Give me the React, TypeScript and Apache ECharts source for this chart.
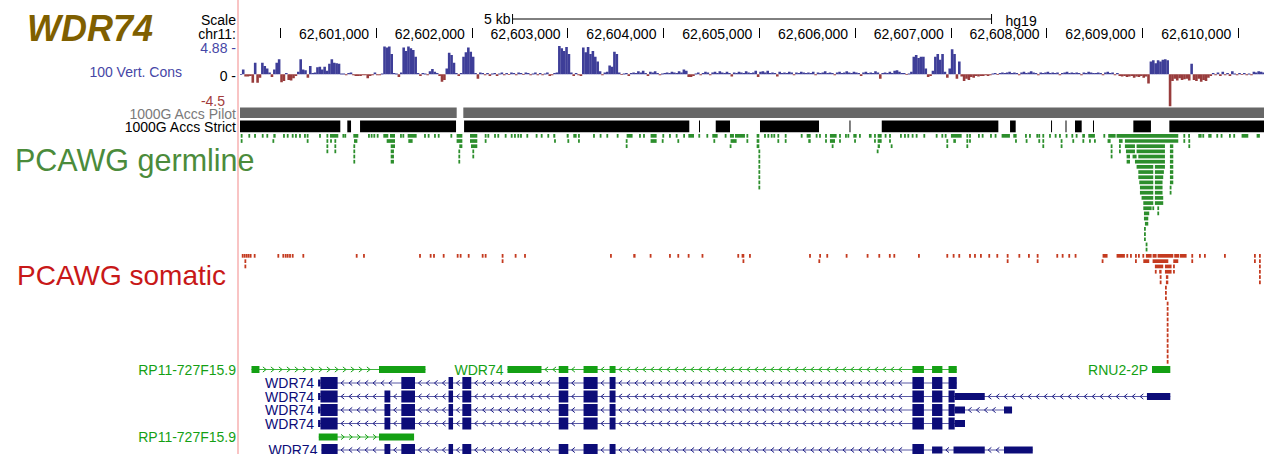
import React, { useEffect, useRef } from 'react';
import * as echarts from 'echarts';

const FONT = '"Liberation Sans", Arial, Helvetica, sans-serif';

// Visible window on chr11 (hg19)
const viewStart = 62599580;
const viewEnd = 62610269;

// Base-position ruler
const rulerTicks = [62600000, 62601000, 62602000, 62603000, 62604000, 62605000, 62606000, 62607000, 62608000, 62609000, 62610000];
const rulerLabels = rulerTicks.slice(1);
const scaleBar = [62602425, 62607425];

// 100 vertebrates basewise conservation (phyloP), 25 bp bins, one row per kb
const consStart = 62599500;
const consBinSize = 25;
const consValues = [
  0, 0, 0, 0, 0.8, -0.4, -0.4, -0.3, -1.5, 2.0, -1.5, -0.6, 2.0, 1.4, 1.0, 0.3, -0.5, 0.8, 2.0, 2.6, -1.4, -1.2, 0.2, -1.0, -1.1, -0.7, -0.3, 0.4, 2.6, 0.8, 0.7, -0.6, 1.4, 0.2, 0.3, 1.2, 1.3, 0.8, 1.3, 0.6,
  1.8, 2.6, 2.0, 1.9, 1.8, 0.1, 0.1, -0.2, 0.2, 0.3, -0.2, -0.3, -0.3, -0.3, -0.2, -0.2, -0.7, -0.3, -0.2, 0.3, -0.2, -0.2, 0.1, 4.8, 4.6, 4.8, 3.5, 0.2, 0.1, -0.5, 0.3, 4.6, 4.0, 4.8, 4.5, 4.2, 3.0, 0.2, -0.3, 0.2,
  0.1, -0.2, 0.5, 0.9, 0.4, 0.2, -0.3, -1.3, -1.0, 1.0, 3.7, 3.3, 2.0, 0.2, -0.3, 0.2, 3.0, 3.8, 4.6, 3.9, 3.0, 0.2, -0.8, 0.3, 0.2, -0.2, 0.2, -0.3, 0.1, 0.2, -0.3, 0.1, 0.3, -0.2, 0.2, -0.1, 0.3, 0.2, -0.2, 0.3,
  0.2, -0.1, 0.3, 0.2, -0.2, 0.1, 0.3, -0.2, 0.2, -0.2, 0.1, 0.3, -0.3, -0.2, 0.2, 0.3, 4.88, 4.5, 4.0, 4.7, 3.5, 0.3, -0.3, 0.2, -0.2, -0.3, 4.6, 3.8, 4.7, 3.5, 4.0, 3.0, 2.2, 0.5, -0.2, 0.3, 0.4, 1.5, 1.3, 3.9,
  3.5, 0.3, -0.1, 0.1, 0.2, -0.3, 0.2, 0.3, 0.2, 0.5, 0.3, 0.6, 0.2, -0.3, 0.4, 0.3, 0.5, 0.2, -0.2, 0.1, 0.2, 0.3, 0.2, 0.4, 0.3, 0.2, 0.5, 0.3, 0.8, 0.6, -0.5, -0.5, -0.3, 0.1, 0.3, -0.2, 0.2, 0.4, 0.3, -0.2,
  0.3, 0.4, 0.2, 0.5, 0.3, 0.2, 0.4, 0.2, -0.4, 0.3, 0.2, 0.4, 0.3, 0.2, 0.5, 0.3, 0.2, 0.3, 0.6, -0.5, 0.4, 0.5, 0.3, 0.6, 0.2, 0.3, 0.2, -0.4, 0.4, 0.2, 0.3, 0.2, 0.4, 0.3, -0.2, 0.3, 0.2, 0.4, 0.3, 0.2,
  0.3, 0.2, 0.4, -0.2, 0.3, 0.2, 0.3, 0.5, 0.2, 0.3, 0.2, -0.2, 0.3, 0.4, 0.2, 0.3, 0.5, 0.3, 0.2, 0.4, 0.3, 0.2, -0.3, 0.3, 0.4, 0.2, 0.3, 0.2, 0.5, 0.3, -0.8, 0.2, 0.3, 0.2, 0.4, 0.2, 0.6, 0.7, 0.4, 0.2,
  0.2, -0.1, 0.1, 0.4, 3.0, 3.3, 2.8, 3.0, 3.0, 1.0, -0.5, -0.3, 0.6, 3.0, 3.5, 2.5, 3.5, 0.4, -0.6, 1.0, 4.3, 3.5, -0.8, 2.2, -0.4, -1.2, -0.8, -1.0, -0.5, -0.6, -0.3, -0.4, -0.3, -0.3, -0.2, -0.3, -0.2, 0.1, 0.2, -0.1,
  0.2, 0.3, 0.2, 0.3, 0.4, 0.2, 0.3, 0.2, -0.2, 0.3, 0.4, 0.2, 0.3, 0.5, 0.3, 0.2, -0.2, 0.3, 0.2, 0.3, 0.4, 0.2, 0.3, 0.2, 0.3, -0.2, 0.2, 0.3, 0.4, 0.2, 0.3, 0.2, 0.3, 0.2, -0.2, 0.3, 0.2, 0.4, 0.3, 0.2,
  0.2, 0.3, 0.2, -0.2, 0.3, 0.4, 0.2, 0.3, -0.2, 0.2, -0.3, -0.4, -0.3, -0.5, -0.4, -0.3, -0.6, -0.4, -0.5, -0.3, -0.6, -0.4, -1.6, 2.2, 2.4, 1.9, 2.4, 2.2, 2.5, 2.6, 2.4, -5.6, -1.2, -0.8, -1.1, -0.7, -1.0, -0.9, -0.8, -1.1,
  1.8, -1.0, -1.2, -0.8, -1.3, -1.0, -1.2, -0.6, -0.3, 0.2, -0.2, 0.3, -0.3, 0.4, -0.2, 0.2, -0.3, 0.5, 0.1, -0.2, 0.2, -0.1, 0.2, -0.2, 0.1, -0.2, 0.4, 0.3, 0.5, 0.4, 0.3,
];

// 1000 Genomes accessibility masks [start, end]
const pilotBlocks = [[62599580, 62601842], [62601911, 62610269]];
const strictBlocks = [
  [62599580, 62600627], [62600700, 62600739], [62600833, 62601835], [62601919, 62604270], [62604371, 62604382],
  [62604546, 62604695], [62605008, 62605624], [62605942, 62605952], [62606279, 62607496], [62607618, 62607677],
  [62608046, 62608056], [62608197, 62608207], [62608296, 62608366], [62608484, 62608494], [62608905, 62609089],
  [62609281, 62610269],
];

// PCAWG germline calls [start, end, firstRow, lastRow]
const germlineCalls = [
  [62599597, 62599597, 1, 2], [62599677, 62599677, 1, 1], [62599737, 62599737, 1, 1], [62599817, 62599817, 1, 1],
  [62599865, 62599865, 1, 1], [62599928, 62599952, 1, 1], [62599928, 62599928, 2, 2], [62600039, 62600039, 1, 1],
  [62600078, 62600078, 1, 1], [62600130, 62600130, 1, 1], [62600164, 62600164, 1, 1], [62600206, 62600206, 1, 1],
  [62600258, 62600258, 1, 1], [62600286, 62600286, 1, 2], [62600415, 62600415, 1, 1], [62600492, 62600492, 1, 4],
  [62600519, 62600606, 1, 1], [62600530, 62600530, 2, 2], [62600575, 62600575, 2, 4], [62600659, 62600659, 1, 1],
  [62600679, 62600679, 1, 1], [62600763, 62600815, 1, 1], [62600770, 62600805, 2, 2], [62600773, 62600773, 3, 6],
  [62600926, 62600926, 1, 1], [62600954, 62600954, 1, 1], [62600982, 62600982, 1, 1], [62601017, 62601017, 1, 1],
  [62601076, 62601128, 1, 1], [62601146, 62601198, 1, 1], [62601111, 62601198, 2, 2], [62601153, 62601198, 3, 3],
  [62601153, 62601187, 4, 6], [62601260, 62601260, 1, 1], [62601285, 62601285, 1, 1], [62601330, 62601424, 1, 1],
  [62601337, 62601382, 2, 2], [62601511, 62601511, 1, 1], [62601549, 62601549, 1, 1], [62601615, 62601615, 1, 1],
  [62601654, 62601654, 1, 1], [62601786, 62601786, 1, 1], [62601841, 62601901, 1, 2], [62601869, 62601901, 3, 3],
  [62601869, 62601869, 4, 6], [62601981, 62602057, 1, 2], [62601991, 62602057, 3, 3], [62602015, 62602015, 4, 5],
  [62602144, 62602144, 1, 2], [62602172, 62602172, 1, 1], [62602242, 62602242, 1, 1], [62602276, 62602276, 1, 1],
  [62602353, 62602353, 1, 1], [62602416, 62602416, 1, 1], [62602450, 62602450, 1, 1], [62602485, 62602485, 1, 1],
  [62602513, 62602513, 1, 1], [62602579, 62602579, 1, 1], [62602676, 62602676, 1, 1], [62602729, 62602729, 1, 1],
  [62602798, 62602798, 1, 1], [62602850, 62602871, 1, 1], [62602868, 62602868, 2, 2], [62602990, 62603011, 1, 1],
  [62603007, 62603007, 2, 2], [62603059, 62603094, 1, 1], [62603118, 62603118, 1, 2], [62603275, 62603275, 1, 1],
  [62603344, 62603344, 1, 1], [62603414, 62603414, 1, 1], [62603522, 62603522, 1, 1], [62603616, 62603678, 1, 1],
  [62603616, 62603616, 2, 3], [62603755, 62603755, 1, 1], [62603797, 62603797, 1, 1], [62603866, 62603929, 1, 2],
  [62603992, 62604005, 1, 1], [62603992, 62603992, 2, 2], [62604068, 62604068, 1, 1], [62604138, 62604138, 1, 1],
  [62604155, 62604155, 2, 2], [62604207, 62604225, 1, 1], [62604260, 62604319, 1, 1], [62604374, 62604374, 1, 1],
  [62604458, 62604458, 1, 1], [62604510, 62604566, 1, 1], [62604531, 62604531, 2, 2], [62604649, 62604649, 1, 1],
  [62604694, 62604736, 1, 1], [62604701, 62604764, 2, 2], [62604701, 62604701, 3, 3], [62604747, 62604851, 1, 1],
  [62604876, 62604876, 1, 2], [62604973, 62605001, 1, 3], [62605001, 62605001, 4, 11], [62605060, 62605060, 1, 1],
  [62605095, 62605095, 1, 1], [62605130, 62605130, 1, 1], [62605157, 62605157, 1, 1], [62605199, 62605199, 1, 2],
  [62605276, 62605276, 1, 2], [62605443, 62605443, 1, 1], [62605495, 62605537, 1, 1], [62605512, 62605537, 2, 2],
  [62605599, 62605599, 1, 1], [62605634, 62605634, 1, 1], [62605697, 62605697, 1, 2], [62605738, 62605808, 1, 1],
  [62605738, 62605791, 2, 2], [62605766, 62605766, 3, 3], [62605843, 62605843, 1, 2], [62605905, 62605905, 1, 1],
  [62605930, 62605930, 1, 1], [62605982, 62606017, 1, 1], [62606000, 62606000, 2, 2], [62606051, 62606051, 1, 1],
  [62606145, 62606173, 1, 1], [62606208, 62606208, 1, 2], [62606236, 62606278, 1, 2], [62606236, 62606260, 3, 3],
  [62606236, 62606236, 4, 4], [62606319, 62606319, 1, 1], [62606365, 62606365, 1, 2], [62606382, 62606382, 3, 3],
  [62606479, 62606479, 1, 1], [62606521, 62606521, 1, 1], [62606556, 62606556, 1, 1], [62606601, 62606601, 1, 1],
  [62606643, 62606643, 1, 1], [62606723, 62606723, 1, 1], [62606852, 62606852, 1, 1], [62606911, 62606911, 1, 1],
  [62606946, 62606946, 1, 1], [62606963, 62606963, 2, 3], [62607001, 62607113, 1, 1], [62607026, 62607053, 2, 2],
  [62607172, 62607172, 1, 3], [62607200, 62607200, 1, 2], [62607293, 62607293, 1, 1], [62607332, 62607332, 1, 1],
  [62607419, 62607419, 1, 1], [62607467, 62607467, 1, 1], [62607530, 62607617, 1, 1], [62607652, 62607687, 1, 1],
  [62607680, 62607680, 2, 2], [62607784, 62607784, 1, 1], [62607791, 62607791, 2, 2], [62607826, 62607826, 1, 1],
  [62607902, 62607902, 1, 1], [62607923, 62607923, 1, 2], [62607965, 62607965, 1, 3], [62608035, 62608035, 1, 1],
  [62608094, 62608094, 1, 1], [62608139, 62608139, 1, 1], [62608156, 62608156, 2, 3], [62608208, 62608208, 1, 1],
  [62608268, 62608268, 1, 1], [62608278, 62608278, 2, 2], [62608313, 62608313, 1, 1], [62608372, 62608400, 1, 1],
  [62608383, 62608383, 2, 2], [62608435, 62608504, 1, 1], [62608452, 62608452, 2, 2], [62608504, 62608504, 2, 2],
  [62608602, 62608602, 1, 1], [62608643, 62608720, 1, 1], [62608636, 62608668, 2, 2], [62608678, 62608678, 3, 5],
  [62608730, 62609374, 1, 1], [62608755, 62608793, 2, 2], [62608817, 62609374, 2, 2], [62608765, 62608765, 3, 4],
  [62608817, 62608922, 3, 3], [62608828, 62608922, 4, 4], [62608939, 62609235, 3, 4], [62609287, 62609322, 3, 10],
  [62608835, 62608870, 5, 6], [62608897, 62608939, 5, 5], [62608957, 62609235, 5, 5], [62608922, 62609235, 6, 6],
  [62608939, 62609113, 7, 7], [62609130, 62609235, 7, 7], [62608957, 62609113, 8, 9], [62609130, 62609224, 8, 8],
  [62609130, 62609217, 9, 9], [62608967, 62609113, 10, 10], [62609130, 62609210, 10, 12], [62609294, 62609294, 11, 12],
  [62608974, 62609113, 11, 12], [62608991, 62609113, 13, 13], [62609009, 62609113, 14, 14], [62609130, 62609217, 13, 14],
  [62609009, 62609096, 15, 15], [62609113, 62609113, 15, 15], [62609165, 62609165, 15, 16], [62609016, 62609071, 16, 16],
  [62609016, 62609061, 17, 17], [62609026, 62609061, 18, 18], [62609026, 62609026, 19, 21], [62609043, 62609043, 22, 23],
  [62609437, 62609437, 1, 2], [62609478, 62609496, 1, 1], [62609489, 62609489, 2, 3], [62609583, 62609618, 1, 1],
  [62609635, 62609635, 1, 1], [62609687, 62609722, 1, 1], [62609781, 62609781, 1, 1], [62609826, 62609826, 1, 1],
  [62609913, 62609913, 1, 1], [62609958, 62609958, 1, 1], [62610035, 62610105, 1, 1], [62610192, 62610226, 1, 1],
];

// PCAWG somatic calls [start, end, firstRow, lastRow]
const somaticCalls = [
  [62599608, 62599608, 1, 1], [62599629, 62599629, 1, 1], [62599650, 62599650, 1, 1], [62599670, 62599670, 1, 1],
  [62599691, 62599691, 1, 1], [62599733, 62599733, 1, 1], [62599636, 62599636, 2, 3], [62599980, 62599980, 1, 1],
  [62600032, 62600032, 1, 1], [62600057, 62600057, 1, 1], [62600078, 62600078, 1, 1], [62600102, 62600102, 1, 1],
  [62600130, 62600130, 1, 1], [62600241, 62600241, 1, 1], [62600791, 62600805, 1, 1], [62600874, 62600874, 1, 1],
  [62601459, 62601459, 1, 1], [62601570, 62601570, 1, 1], [62601605, 62601605, 1, 1], [62601706, 62601706, 1, 1],
  [62601852, 62601852, 1, 1], [62601883, 62601883, 1, 1], [62601967, 62601967, 1, 1], [62602113, 62602113, 1, 1],
  [62602144, 62602144, 1, 1], [62602321, 62602321, 1, 2], [62602457, 62602457, 1, 1], [62602555, 62602555, 1, 1],
  [62603452, 62603452, 1, 1], [62603685, 62603709, 1, 1], [62603866, 62603866, 1, 1], [62604068, 62604068, 1, 1],
  [62604155, 62604155, 1, 1], [62604263, 62604263, 1, 1], [62604399, 62604416, 1, 1], [62604781, 62604781, 1, 1],
  [62604816, 62604844, 1, 1], [62604826, 62604844, 2, 2], [62604903, 62604903, 1, 1], [62605530, 62605530, 1, 1],
  [62605627, 62605644, 1, 1], [62605627, 62605627, 2, 2], [62605710, 62605710, 1, 1], [62605912, 62605912, 1, 1],
  [62606131, 62606131, 1, 1], [62606253, 62606253, 1, 1], [62606354, 62606372, 1, 1], [62606410, 62606410, 1, 1],
  [62606667, 62606667, 1, 1], [62606963, 62606963, 1, 1], [62607029, 62607029, 1, 1], [62607088, 62607088, 1, 1],
  [62607200, 62607200, 1, 1], [62607252, 62607252, 1, 1], [62607314, 62607314, 1, 1], [62607401, 62607401, 1, 1],
  [62607485, 62607485, 1, 1], [62607593, 62607593, 1, 2], [62607715, 62607715, 1, 1], [62607815, 62607815, 1, 1],
  [62607906, 62607906, 1, 2], [62608111, 62608111, 1, 1], [62608167, 62608167, 1, 1], [62608236, 62608236, 1, 1],
  [62608302, 62608302, 1, 1], [62608584, 62608636, 1, 1], [62608584, 62608584, 2, 2], [62608730, 62608817, 1, 1],
  [62608842, 62608842, 1, 1], [62608880, 62608880, 1, 1], [62608932, 62608932, 1, 2], [62608963, 62608963, 1, 1],
  [62609009, 62609009, 1, 1], [62609036, 62609096, 1, 1], [62609009, 62609071, 2, 2], [62609106, 62609148, 1, 1],
  [62609158, 62609322, 1, 1], [62609106, 62609270, 2, 2], [62609332, 62609384, 1, 1], [62609322, 62609374, 2, 2],
  [62609391, 62609461, 1, 1], [62609520, 62609520, 1, 2], [62609600, 62609600, 1, 1], [62609652, 62609652, 1, 1],
  [62609861, 62609861, 1, 1], [62610174, 62610174, 1, 2], [62610226, 62610226, 1, 6],
  [62609130, 62609217, 3, 3], [62609235, 62609304, 3, 4], [62609329, 62609329, 3, 4], [62609130, 62609148, 4, 4],
  [62609175, 62609200, 4, 4], [62609190, 62609190, 5, 6], [62609245, 62609270, 5, 6], [62609245, 62609245, 7, 9],
  [62609263, 62609263, 10, 21],
];

// Gene models: exons [start, end, coding(1) / non-coding(0)]
const rp11aExons = [[62599700, 62599783, 0], [62601031, 62601516, 0]];
const wdr74NcExons = [[62602372, 62602727, 0], [62602907, 62603007, 0], [62603166, 62603313, 0], [62603438, 62603500, 0], [62606599, 62606719, 0], [62606804, 62606912, 0], [62606976, 62607062, 0]];
const rnu2Exons = [[62609100, 62609291, 0]];
const wdr74aExons = [[62600395, 62600420, 0], [62600420, 62600599, 1], [62601264, 62601407, 1], [62601757, 62601804, 1], [62601901, 62601994, 1], [62602907, 62603007, 1], [62603166, 62603313, 1], [62603438, 62603500, 1], [62606599, 62606719, 1], [62606804, 62606912, 1], [62606976, 62607062, 1]];
const wdr74bExons = [[62600395, 62600420, 0], [62600420, 62600599, 1], [62601088, 62601149, 1], [62601264, 62601407, 1], [62601757, 62601804, 1], [62601901, 62601994, 1], [62602907, 62603007, 1], [62603166, 62603313, 1], [62603438, 62603500, 1], [62606599, 62606719, 1], [62606804, 62606912, 1], [62606976, 62607040, 1], [62607040, 62607354, 0], [62609047, 62609291, 0]];
const wdr74cExons = [[62600395, 62600420, 0], [62600420, 62600599, 1], [62601088, 62601149, 1], [62601264, 62601407, 1], [62601757, 62601804, 1], [62601901, 62601994, 1], [62602907, 62603007, 1], [62603166, 62603313, 1], [62603438, 62603500, 1], [62606599, 62606719, 1], [62606804, 62606912, 1], [62606976, 62607040, 1], [62607040, 62607148, 0], [62607555, 62607639, 0]];
const wdr74dExons = [[62600395, 62600420, 0], [62600420, 62600599, 1], [62601088, 62601149, 1], [62601264, 62601407, 1], [62601757, 62601804, 1], [62601901, 62601994, 1], [62602907, 62603007, 1], [62603166, 62603313, 1], [62603438, 62603500, 1], [62606599, 62606719, 1], [62606804, 62606912, 1], [62606976, 62607040, 1], [62607040, 62607148, 0]];
const rp11bExons = [[62600402, 62600599, 0], [62601031, 62601397, 0]];
const wdr74eExons = [[62600430, 62600599, 1], [62601088, 62601149, 1], [62601264, 62601407, 1], [62601757, 62601804, 1], [62601901, 62601994, 1], [62602907, 62603007, 1], [62603166, 62603313, 1], [62603438, 62603500, 1], [62606599, 62606719, 1], [62606804, 62606912, 0], [62607028, 62607354, 0], [62607555, 62607855, 0]];

const GREEN = '#14a014';
const NAVY = '#0c0c78';
const geneStyles = {
  green: { color: GREEN, line: '#3cb43c', arrow: GREEN },
  navy: { color: NAVY, line: '#5a5aa6', arrow: '#1c1c84' },
};

const transcripts = [
  { name: 'RP11-727F15.9', row: 0, strand: 1, kind: 'green', exons: rp11aExons },
  { name: 'WDR74', row: 0, strand: -1, kind: 'green', exons: wdr74NcExons },
  { name: 'RNU2-2P', row: 0, strand: 0, kind: 'green', exons: rnu2Exons },
  { name: 'WDR74', row: 1, strand: -1, kind: 'navy', exons: wdr74aExons },
  { name: 'WDR74', row: 2, strand: -1, kind: 'navy', exons: wdr74bExons },
  { name: 'WDR74', row: 3, strand: -1, kind: 'navy', exons: wdr74cExons },
  { name: 'WDR74', row: 4, strand: -1, kind: 'navy', exons: wdr74dExons },
  { name: 'RP11-727F15.9', row: 5, strand: 1, kind: 'green', exons: rp11bExons },
  { name: 'WDR74', row: 6, strand: -1, kind: 'navy', exons: wdr74eExons },
];

// Track layout (page pixels)
const DATA_LEFT = 240;
const GENE_ROW_Y = [369.5, 383, 396.5, 410, 423.5, 437, 450];
const GERM = { top: 134, pitch: 5.17, h: 3.7, color: '#2c8e2c' };
const SOMA = { top: 254, pitch: 5.3, h: 3.7, color: '#c43a1f' };

const fmtPos = (v: number) => String(Math.round(v)).replace(/\B(?=(\d{3})+(?!\d))/g, ',');

function makeTickSeries(data: number[][], cfg: { top: number; pitch: number; h: number; color: string }) {
  return {
    type: 'custom',
    xAxisIndex: 2,
    yAxisIndex: 2,
    clip: true,
    data,
    renderItem: (_p: any, api: any) => {
      const s = api.value(0), e = api.value(1), r0 = api.value(2), r1 = api.value(3);
      const x0 = api.coord([s, 0])[0];
      const x1 = api.coord([e, 0])[0];
      const narrow = x1 - x0 < 1.8;
      const x = narrow ? (x0 + x1) / 2 - 0.9 : x0;
      const w = narrow ? 1.8 : x1 - x0;
      const children: any[] = [];
      for (let r = r0; r <= r1; r++) {
        const y = api.coord([s, cfg.top + (r - 1) * cfg.pitch])[1];
        children.push({ type: 'rect', shape: { x, y, width: w, height: cfg.h }, style: { fill: cfg.color } });
      }
      return { type: 'group', children };
    },
  };
}

function makeBlockSeries(data: number[][], y0: number, y1: number, color: string) {
  return {
    type: 'custom',
    xAxisIndex: 2,
    yAxisIndex: 2,
    clip: true,
    data,
    renderItem: (_p: any, api: any) => {
      const a = api.coord([api.value(0), y0]);
      const b = api.coord([api.value(1), y1]);
      return { type: 'rect', shape: { x: a[0], y: a[1], width: Math.max(b[0] - a[0], 1), height: b[1] - a[1] }, style: { fill: color } };
    },
  };
}

export default function App() {
  const ref = useRef<HTMLDivElement>(null);

  useEffect(() => {
    const el = ref.current;
    if (!el) return;
    const chart = echarts.init(el, null, { renderer: 'svg' });

    const measureCtx = document.createElement('canvas').getContext('2d') as CanvasRenderingContext2D;
    const textWidth = (t: string, font: string) => {
      measureCtx.font = font;
      return measureCtx.measureText(t).width;
    };

    const label14 = `14px ${FONT}`;
    const leftText = (text: string, x: number, y: number, fill: string, font = label14, align = 'right') => ({
      type: 'text',
      x,
      y,
      z: 10,
      style: { text, fill, font, align, verticalAlign: 'middle', textAlign: align, textVerticalAlign: 'middle' },
    });

    const xBase = { type: 'value', min: viewStart, max: viewEnd, show: false };

    const option: any = {
      animation: false,
      backgroundColor: '#ffffff',
      grid: [
        { left: DATA_LEFT, right: 0, top: 28, height: 10 },
        { left: DATA_LEFT, right: 0, top: 46, height: 60.5 },
        { left: DATA_LEFT, right: 0, top: 0, height: 454 },
      ],
      xAxis: [
        {
          type: 'value',
          gridIndex: 0,
          min: viewStart,
          max: viewEnd,
          position: 'bottom',
          axisLine: { show: false },
          splitLine: { show: false },
          axisTick: { show: true, inside: true, length: 10, customValues: rulerTicks, lineStyle: { color: '#000', width: 1 } },
          axisLabel: {
            inside: true,
            customValues: rulerLabels,
            formatter: (v: number) => fmtPos(v),
            fontSize: 14,
            fontFamily: FONT,
            color: '#000',
            align: 'right',
            verticalAlign: 'middle',
            margin: 4,
            padding: [0, 7, 0, 0],
          },
        },
        { ...xBase, gridIndex: 1 },
        { ...xBase, gridIndex: 2 },
      ],
      yAxis: [
        { type: 'value', gridIndex: 0, min: 0, max: 1, show: false },
        { type: 'value', gridIndex: 1, min: -5.6, max: 4.88, show: false },
        { type: 'value', gridIndex: 2, min: 0, max: 454, inverse: true, show: false },
      ],
      graphic: [
        { type: 'rect', x: 237, y: 0, z: 0, shape: { x: 0, y: 0, width: 2, height: 454 }, style: { fill: '#f9c4c4' } },
        leftText('WDR74', 27, 28.5, '#7f5f00', `italic bold 36px ${FONT}`, 'left'),
        leftText('Scale', 236, 20, '#000'),
        leftText('chr11:', 236, 33.5, '#000'),
        leftText('4.88 -', 236, 47.5, '#4646a6'),
        leftText('100 Vert. Cons', 182, 72, '#4646a6'),
        leftText('0 -', 236, 75.5, '#000'),
        leftText('-4.5', 225, 100.5, '#a33c3c'),
        leftText('1000G Accs Pilot', 236, 113.5, '#7a7a7a'),
        leftText('1000G Accs Strict', 236, 127, '#000'),
        leftText('PCAWG germline', 15, 160, '#4b8b3b', `30.5px ${FONT}`, 'left'),
        leftText('PCAWG somatic', 17, 275, '#c81818', `28px ${FONT}`, 'left'),
      ],
      series: [
        // 5 kb scale bar with assembly name
        {
          type: 'custom',
          xAxisIndex: 2,
          yAxisIndex: 2,
          data: [scaleBar],
          renderItem: (_p: any, api: any) => {
            const s = api.value(0), e = api.value(1);
            const a = api.coord([s, 19]);
            const b = api.coord([e, 19]);
            const kb = Math.round((e - s) / 1000);
            return {
              type: 'group',
              children: [
                { type: 'line', shape: { x1: a[0], y1: a[1], x2: b[0], y2: b[1] }, style: { stroke: '#000', lineWidth: 1 } },
                { type: 'line', shape: { x1: a[0], y1: a[1] - 5, x2: a[0], y2: a[1] + 5 }, style: { stroke: '#000', lineWidth: 1 } },
                { type: 'line', shape: { x1: b[0], y1: b[1] - 5, x2: b[0], y2: b[1] + 5 }, style: { stroke: '#000', lineWidth: 1 } },
                { type: 'text', x: a[0] - 2, y: a[1], style: { text: `${kb} kb`, fill: '#000', font: label14, align: 'right', verticalAlign: 'middle', textAlign: 'right', textVerticalAlign: 'middle' } },
                { type: 'text', x: b[0] + 14, y: b[1] + 1.5, style: { text: 'hg19', fill: '#000', font: label14, align: 'left', verticalAlign: 'middle', textAlign: 'left', textVerticalAlign: 'middle' } },
              ],
            };
          },
        },
        // Conservation wiggle
        {
          type: 'custom',
          xAxisIndex: 1,
          yAxisIndex: 1,
          clip: true,
          data: consValues.map((v, i) => [consStart + i * consBinSize, v]),
          renderItem: (_p: any, api: any) => {
            const s = api.value(0), v = api.value(1);
            const a = api.coord([s, 0]);
            const b = api.coord([s + consBinSize, v]);
            const y = Math.min(a[1], b[1]);
            return {
              type: 'rect',
              shape: { x: a[0], y, width: b[0] - a[0] + 0.2, height: Math.max(Math.abs(b[1] - a[1]), 0.8) },
              style: { fill: v >= 0 ? '#3e3e98' : '#983c3c' },
            };
          },
        },
        makeBlockSeries(pilotBlocks, 107.5, 118, '#676767'),
        makeBlockSeries(strictBlocks, 120.5, 132.3, '#000000'),
        makeTickSeries(germlineCalls, GERM),
        makeTickSeries(somaticCalls, SOMA),
        // Gene models
        {
          type: 'custom',
          xAxisIndex: 2,
          yAxisIndex: 2,
          clip: false,
          data: transcripts.map((t, i) => [t.exons[0][0], t.exons[t.exons.length - 1][1], i]),
          renderItem: (_p: any, api: any) => {
            const t = transcripts[api.value(2)];
            const st = (geneStyles as any)[t.kind];
            const yc = api.coord([viewStart, GENE_ROW_Y[t.row]])[1];
            const xs = t.exons.map((ex) => [api.coord([ex[0], 0])[0], api.coord([ex[1], 0])[0], ex[2]]);
            const first = xs[0][0];
            const last = xs[xs.length - 1][1];
            const children: any[] = [];
            if (xs.length > 1) {
              children.push({ type: 'line', shape: { x1: first, y1: yc, x2: last, y2: yc }, style: { stroke: st.line, lineWidth: 1 } });
            }
            if (t.strand !== 0) {
              const d = t.strand;
              for (let i = 0; i < xs.length - 1; i++) {
                const a = xs[i][1];
                const b = xs[i + 1][0];
                for (let x = a + 5; x <= b - 4; x += 8) {
                  children.push({
                    type: 'polyline',
                    shape: { points: [[x - 1.6 * d, yc - 2.6], [x + 1.6 * d, yc], [x - 1.6 * d, yc + 2.6]] },
                    style: { stroke: st.arrow, lineWidth: 1, fill: null },
                  });
                }
              }
            }
            for (const [x0, x1, coding] of xs) {
              const h = coding ? 12 : 7;
              children.push({ type: 'rect', shape: { x: x0, y: yc - h / 2, width: Math.max(x1 - x0, 1), height: h }, style: { fill: st.color } });
            }
            const w = textWidth(t.name, label14);
            let lx = first - 4;
            if (lx - w < DATA_LEFT) lx = 236;
            children.push({
              type: 'text',
              x: lx,
              y: yc,
              style: { text: t.name, fill: st.color, font: label14, align: 'right', verticalAlign: 'middle', textAlign: 'right', textVerticalAlign: 'middle' },
            });
            return { type: 'group', children };
          },
        },
      ],
    };

    chart.setOption(option);
    return () => chart.dispose();
  }, []);

  return <div ref={ref} style={{ position: 'fixed', left: 0, top: 0, width: 1264, height: 454, background: '#fff' }} />;
}
